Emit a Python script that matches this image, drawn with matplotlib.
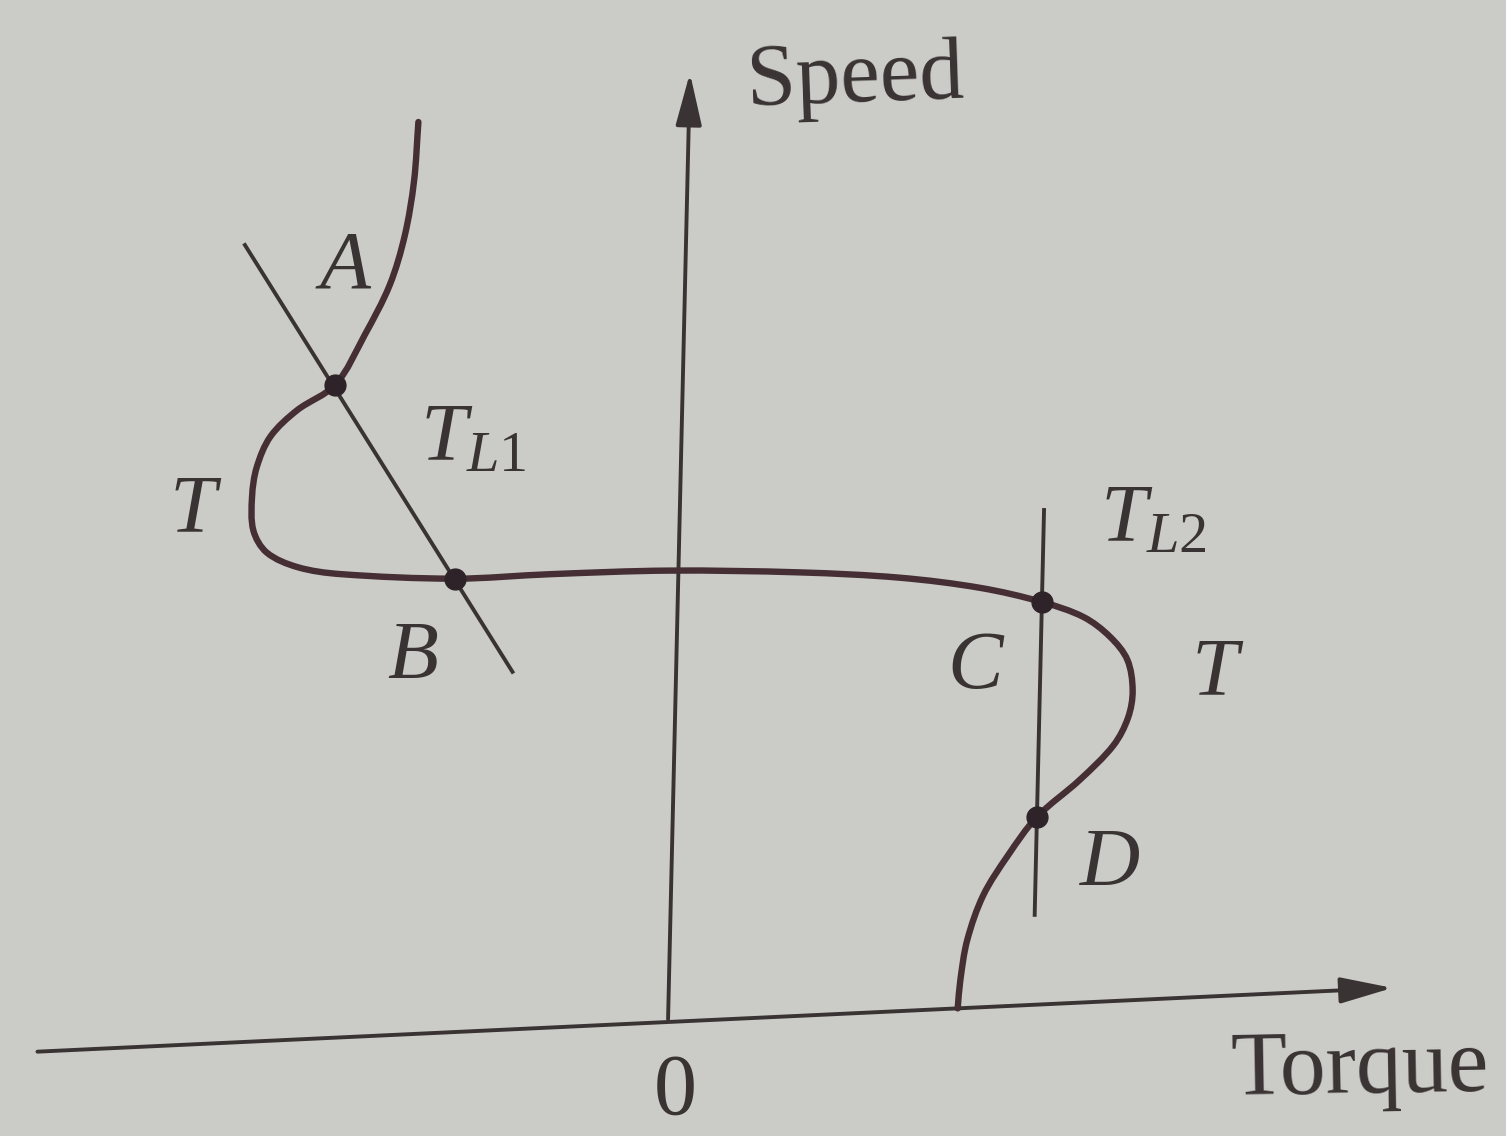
import matplotlib
matplotlib.use("Agg")
import matplotlib.pyplot as plt
import numpy as np
from matplotlib.path import Path
from matplotlib.patches import PathPatch, FancyArrowPatch
from matplotlib.transforms import Affine2D

plt.rcParams["mathtext.fontset"] = "custom"
plt.rcParams["mathtext.it"] = "Liberation Serif:italic"
plt.rcParams["mathtext.rm"] = "Liberation Serif"

# motor torque-speed curve (torque, speed in arbitrary units)
motor_torque = [-2.71, -2.74, -2.82, -2.96, -3.20, -3.48, -3.86, -4.12, -4.25,
                -4.29, -4.27, -4.13, -3.82, -3.39, -2.24, -1.29, -0.10, 1.22,
                2.22, 3.03, 3.65, 4.07, 4.34, 4.52, 4.58, 4.54, 4.40, 4.07,
                3.65, 3.37, 3.13, 2.98, 2.92, 2.90]
motor_speed = [9.13, 8.54, 8.00, 7.51, 7.02, 6.54, 6.30, 6.05, 5.75,
               5.46, 5.12, 4.89, 4.73, 4.64, 4.54, 4.54, 4.52, 4.44,
               4.34, 4.20, 4.03, 3.86, 3.65, 3.41, 3.10, 2.83, 2.56, 2.23,
               1.88, 1.51, 1.12, 0.68, 0.28, 0.0]

# load lines
load1_torque = [-4.42, -1.64]
load1_speed = [7.98, 3.58]
load2_torque = [3.65, 3.65]
load2_speed = [0.90, 4.95]

# operating points
op_names = ["A", "B", "C", "D"]
op_torque = [-3.48, -2.24, 3.65, 3.65]
op_speed = [6.54, 4.54, 4.03, 1.88]

# axis extents
torque_min, torque_max = -6.34, 7.28
speed_max = 9.52

W, H = 1506, 1136
paper = "#cbccc7"
ink = "#3a3334"
curve_ink = "#452f35"

fig = plt.figure(figsize=(W / 100, H / 100), dpi=100)
fig.patch.set_facecolor(paper)
ax = fig.add_axes([0, 0, 1, 1])
ax.set_xlim(0, W)
ax.set_ylim(H, 0)
ax.set_facecolor(paper)
ax.axis("off")

# slightly skewed frame: (torque, speed) -> page pixels
tr = Affine2D(np.array([[99.89, 2.31, 668.0],
                        [-4.70, -99.97, 1022.0],
                        [0.0, 0.0, 1.0]])) + ax.transData


def smooth_path(xs, ys):
    # chord-length Catmull-Rom through the points, as cubic Beziers
    p = np.column_stack([xs, ys])
    d = np.linalg.norm(np.diff(p, axis=0), axis=1)
    m = np.empty_like(p)
    m[0] = (p[1] - p[0]) / d[0]
    m[-1] = (p[-1] - p[-2]) / d[-1]
    m[1:-1] = (p[2:] - p[:-2]) / (d[:-1] + d[1:])[:, None]
    verts = [p[0]]
    codes = [Path.MOVETO]
    for i in range(len(p) - 1):
        verts += [p[i] + m[i] * d[i] / 3, p[i + 1] - m[i + 1] * d[i] / 3, p[i + 1]]
        codes += [Path.CURVE4] * 3
    return Path(verts, codes)


# axes with arrows
arrow_kw = dict(arrowstyle="-|>,head_length=1.6,head_width=0.4",
                mutation_scale=20, lw=2.8, color=ink, transform=tr)
ax.add_patch(FancyArrowPatch((torque_min, 0), (torque_max, 0), **arrow_kw))
ax.add_patch(FancyArrowPatch((0, 0), (0, speed_max), **arrow_kw))

# load characteristics
ax.plot(load1_torque, load1_speed, color=ink, lw=2.8, transform=tr)
ax.plot(load2_torque, load2_speed, color=ink, lw=2.8, transform=tr)

# motor characteristic
ax.add_patch(PathPatch(smooth_path(motor_torque, motor_speed), fill=False,
                       lw=4.6, edgecolor=curve_ink, transform=tr,
                       capstyle="round", joinstyle="round"))

ax.plot(op_torque, op_speed, "o", ms=15, color="#2e2328", transform=tr)

txt = dict(family="Liberation Serif", color=ink)
ax.text(745, 105, "Speed", fontsize=64, ha="left", va="baseline",
        rotation=2, **txt)
ax.text(1230, 1095, "Torque", fontsize=66, ha="left", va="baseline",
        rotation=1, **txt)
ax.text(675, 1093, "0", fontsize=62, ha="center", va="center", **txt)

label_pos = {"A": (345, 268), "B": (413, 658), "C": (975, 668), "D": (1110, 865)}
for name in op_names:
    x, y = label_pos[name]
    ax.text(x, y, name, fontsize=60, style="italic", ha="center",
            va="center", **txt)

ax.text(193, 512, "T", fontsize=60, style="italic", ha="center", va="center", **txt)
ax.text(1215, 675, "T", fontsize=60, style="italic", ha="center", va="center", **txt)
ax.text(420, 460, r"$T_{L1}$", fontsize=60, ha="left", va="baseline", **txt)
ax.text(1100, 542, r"$T_{L2}$", fontsize=60, ha="left", va="baseline", **txt)

fig.savefig("out.png", dpi=100, facecolor=paper)
